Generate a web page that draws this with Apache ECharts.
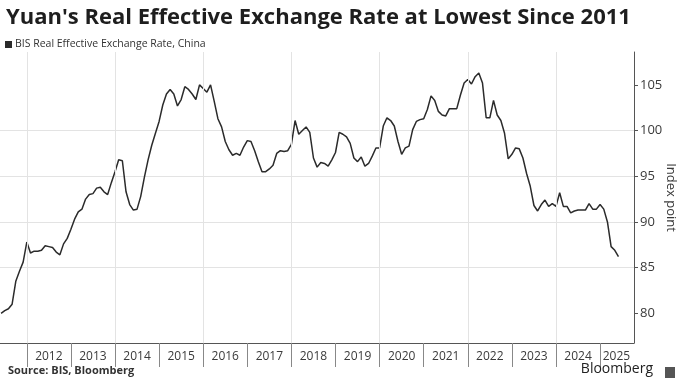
<!DOCTYPE html>
<html>
<head>
<meta charset="utf-8">
<script src="https://cdn.jsdelivr.net/npm/echarts@6/dist/echarts.min.js"></script>
<style>
html,body{margin:0;padding:0;background:#fff;}
#chart{width:678px;height:382px;}
</style>
</head>
<body>
<div id="chart"></div>
<script>
// ---- data ----
const titleText = "Yuan's Real Effective Exchange Rate at Lowest Since 2011";
const seriesName = "BIS Real Effective Exchange Rate, China";
const sourceText = "Source: BIS, Bloomberg";
const startYear = 2011;
const startMonth = 6; // first monthly observation: June 2011
const reer = [
  80.0, 80.3, 80.5, 81.0, 83.5, 84.6, 85.6,
  87.8, 86.6, 86.8, 86.8, 86.9, 87.4, 87.3, 87.2, 86.7, 86.4, 87.6, 88.2,
  89.2, 90.3, 91.1, 91.4, 92.5, 93.0, 93.1, 93.7, 93.8, 93.3, 93.0, 94.3,
  95.5, 96.8, 96.7, 93.3, 91.9, 91.3, 91.4, 92.8, 94.9, 96.8, 98.4, 99.7,
  101.0, 102.8, 104.0, 104.5, 104.0, 102.7, 103.4, 104.8, 104.5, 104.0, 103.4, 105.0,
  104.6, 104.2, 105.0, 103.2, 101.3, 100.4, 98.8, 97.9, 97.3, 97.5, 97.3, 98.2,
  98.9, 98.8, 97.8, 96.6, 95.5, 95.5, 95.8, 96.2, 97.5, 97.8, 97.7, 97.8,
  98.5, 101.1, 99.6, 100.0, 100.4, 99.8, 97.0, 96.0, 96.5, 96.4, 96.1, 96.8,
  97.6, 99.8, 99.6, 99.3, 98.6, 97.0, 96.6, 97.1, 96.1, 96.4, 97.2, 98.1,
  98.1, 100.5, 101.4, 101.1, 100.5, 98.8, 97.4, 98.1, 98.3, 100.1, 101.0, 101.2,
  101.3, 102.3, 103.8, 103.3, 102.1, 101.7, 101.6, 102.4, 102.4, 102.4, 103.9, 105.2,
  105.6, 105.1, 105.9, 106.3, 105.2, 101.4, 101.4, 103.3, 101.7, 101.1, 99.7, 96.9,
  97.4, 98.1, 98.0, 97.0, 95.3, 93.9, 91.8, 91.2, 91.9, 92.4, 91.7, 92.0,
  91.7, 93.2, 91.7, 91.7, 91.0, 91.2, 91.3, 91.3, 91.3, 92.0, 91.4, 91.4,
  91.9, 91.4, 90.0, 87.3, 86.9, 86.2
];
const yearTicks = [2012, 2013, 2014, 2015, 2016, 2017, 2018, 2019, 2020, 2021, 2022, 2023, 2024, 2025];
const yearLabelPos = [2012.5, 2013.5, 2014.5, 2015.5, 2016.5, 2017.5, 2018.5, 2019.5, 2020.5, 2021.5, 2022.5, 2023.5, 2024.5, 2025.37];
const gridYears = [2012, 2014, 2016, 2018, 2020, 2022, 2024];
const yTicks = [80, 85, 90, 95, 100, 105];
const xMin = 2011.392, xMax = 2025.769;
const yMin = 76.75, yMax = 108.6;

// ---- build ----
const points = reer.map((v, i) => [startYear + (startMonth - 1 + i) / 12, v]);
const chart = echarts.init(document.getElementById('chart'), null, {renderer: 'canvas'});
const axisColor = '#555';
const textColor = '#3a3a3a';
const gridColor = '#e3e3e3';

chart.setOption({
  animation: false,
  backgroundColor: '#fff',
  title: [
    {text: titleText, left: 1, top: 2,
     textStyle: {fontFamily: 'Open Sans', fontWeight: 'bold', fontSize: 22, color: '#1e1e1e'}},
    {text: sourceText, left: 3, bottom: 1,
     textStyle: {fontFamily: 'Open Sans', fontWeight: 'bold', fontSize: 11, color: '#333'}},
    {text: 'Bloomberg', right: 20, bottom: 1,
     textStyle: {fontFamily: 'Open Sans', fontWeight: 'normal', fontSize: 14, color: '#222'}}
  ],
  legend: {
    data: [seriesName], left: 0, top: 34, icon: 'rect', itemWidth: 7, itemHeight: 7, itemGap: 4,
    textStyle: {fontFamily: 'Open Sans', fontSize: 10.5, color: '#333', padding: [0,0,0,-2]}
  },
  graphic: [
    {type: 'rect', right: 3, bottom: 4, shape: {width: 10, height: 11}, style: {fill: '#555'}}
  ],
  grid: {left: 0, right: 44, top: 52, bottom: 39, containLabel: false, outerBoundsMode: 'none'},
  xAxis: {
    type: 'value', min: xMin, max: xMax,
    axisLine: {show: true, lineStyle: {color: axisColor, width: 1}},
    axisTick: {show: true, customValues: yearTicks, length: 24, lineStyle: {color: '#888'}},
    axisLabel: {show: true, customValues: yearLabelPos, margin: 8,
      formatter: v => String(Math.floor(v)),
      fontFamily: 'Open Sans', fontSize: 12, color: textColor},
    splitLine: {show: false}
  },
  yAxis: {
    type: 'value', position: 'right', min: yMin, max: yMax,
    name: 'Index point', nameLocation: 'middle', nameRotate: -90, nameGap: 30,
    nameMoveOverlap: false,
    nameTextStyle: {fontFamily: 'Open Sans', fontSize: 13, color: textColor},
    axisLine: {show: true, lineStyle: {color: axisColor}},
    axisTick: {show: true, customValues: yTicks, length: 4, lineStyle: {color: axisColor}},
    axisLabel: {show: true, customValues: yTicks, margin: 6,
      fontFamily: 'Open Sans', fontSize: 13, color: textColor},
    splitLine: {show: true, showMinLine: false, showMaxLine: false, lineStyle: {color: gridColor, width: 1}}
  },
  series: [
    {
      type: 'line', name: 'grid', data: [], silent: true, z: 1,
      markLine: {
        silent: true, symbol: 'none', label: {show: false},
        lineStyle: {color: gridColor, width: 1, type: 'solid'},
        data: gridYears.map(y => ({xAxis: y}))
      }
    },
    {
      type: 'line', name: seriesName, data: points, z: 3,
      showSymbol: false, symbol: 'none',
      lineStyle: {color: '#2b2b2b', width: 1.5},
      itemStyle: {color: '#2b2b2b'}
    }
  ]
});
</script>
</body>
</html>
